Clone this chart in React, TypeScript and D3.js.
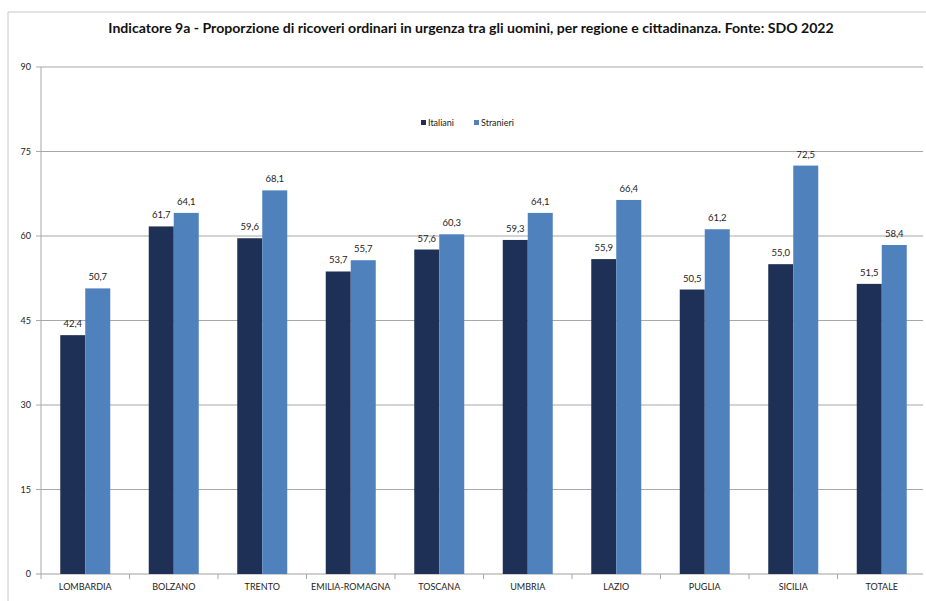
import React from "react";
import * as d3 from "d3";

const categories = ["LOMBARDIA", "BOLZANO", "TRENTO", "EMILIA-ROMAGNA", "TOSCANA", "UMBRIA", "LAZIO", "PUGLIA", "SICILIA", "TOTALE"];
const italiani = [42.4, 61.7, 59.6, 53.7, 57.6, 59.3, 55.9, 50.5, 55.0, 51.5];
const stranieri = [50.7, 64.1, 68.1, 55.7, 60.3, 64.1, 66.4, 61.2, 72.5, 58.4];
const seriesNames = ["Italiani", "Stranieri"];
const yTicks = [0, 15, 30, 45, 60, 75, 90];
const title = "Indicatore 9a - Proporzione di ricoveri ordinari in urgenza tra gli uomini, per regione e cittadinanza. Fonte: SDO 2022";

const colors = ["#1f3056", "#4f81bd"];
const W = 926, H = 601;
const left = 41, right = 926, top = 67, bottom = 574;
const font = "Lato, 'Open Sans', sans-serif";

export default function App() {
  const x = d3.scaleBand<string>().domain(categories).range([left, right]).paddingInner(0).paddingOuter(0);
  const x1 = d3.scaleBand<string>().domain(seriesNames).range([0, 50]);
  const y = d3.scaleLinear().domain([0, 90]).range([bottom, top]);
  const innerOffset = (x.bandwidth() - 50) / 2;
  const fmt = (v: number) => v.toFixed(1).replace(".", ",");
  const data = [italiani, stranieri];

  return (
    <div style={{ position: "fixed", left: 0, top: 0 }}>
      <svg width={W} height={H} style={{ display: "block", background: "#fff" }}>
        <rect x={0} y={0} width={W} height={H} fill="#fff" />
        {/* frame */}
        <line x1={8} x2={W} y1={12} y2={12} stroke="#c8c8c8" strokeWidth={1} />
        <line x1={8} x2={8} y1={12} y2={H} stroke="#c8c8c8" strokeWidth={1} />
        <text x={471} y={33} textAnchor="middle" fontFamily={font} fontWeight="bold" fontSize={14.1} fill="#111">
          {title}
        </text>
        {/* gridlines */}
        {yTicks.map((t) => (
          <g key={t}>
            <line x1={left - 5} x2={right - 3} y1={y(t)} y2={y(t)} stroke={t === 0 ? "#a0a0a0" : "#a8a8a8"} strokeWidth={1} />
            <text x={31} y={y(t) + 3} textAnchor="end" fontFamily={font} fontSize={9} fill="#222">{t}</text>
          </g>
        ))}
        <line x1={left} x2={left} y1={top} y2={bottom} stroke="#a8a8a8" strokeWidth={1} />
        {/* category ticks */}
        {categories.map((c) => (
          <line key={c} x1={x(c)!} x2={x(c)!} y1={bottom} y2={bottom + 5} stroke="#a8a8a8" />
        ))}
        {/* bars */}
        {categories.map((c, i) => (
          <g key={c}>
            {data.map((s, j) => {
              const bx = x(c)! + innerOffset + x1(seriesNames[j])!;
              return (
                <g key={j}>
                  <rect x={bx} y={y(s[i])} width={x1.bandwidth()} height={bottom - y(s[i])} fill={colors[j]} />
                  <text x={bx + x1.bandwidth() / 2} y={y(s[i]) - 8} textAnchor="middle" fontFamily={font} fontSize={9.5} fill="#222">{fmt(s[i])}</text>
                </g>
              );
            })}
            <text x={x(c)! + x.bandwidth() / 2} y={590} textAnchor="middle" fontFamily={font} fontSize={9} fill="#222">{c}</text>
          </g>
        ))}
        {/* legend */}
        {seriesNames.map((n, j) => {
          const lx = j === 0 ? 421 : 474;
          return (
            <g key={n}>
              <rect x={lx} y={120} width={5} height={5} fill={colors[j]} />
              <text x={lx + 7} y={126} fontFamily={font} fontSize={9} fill="#222">{n}</text>
            </g>
          );
        })}
      </svg>
    </div>
  );
}
